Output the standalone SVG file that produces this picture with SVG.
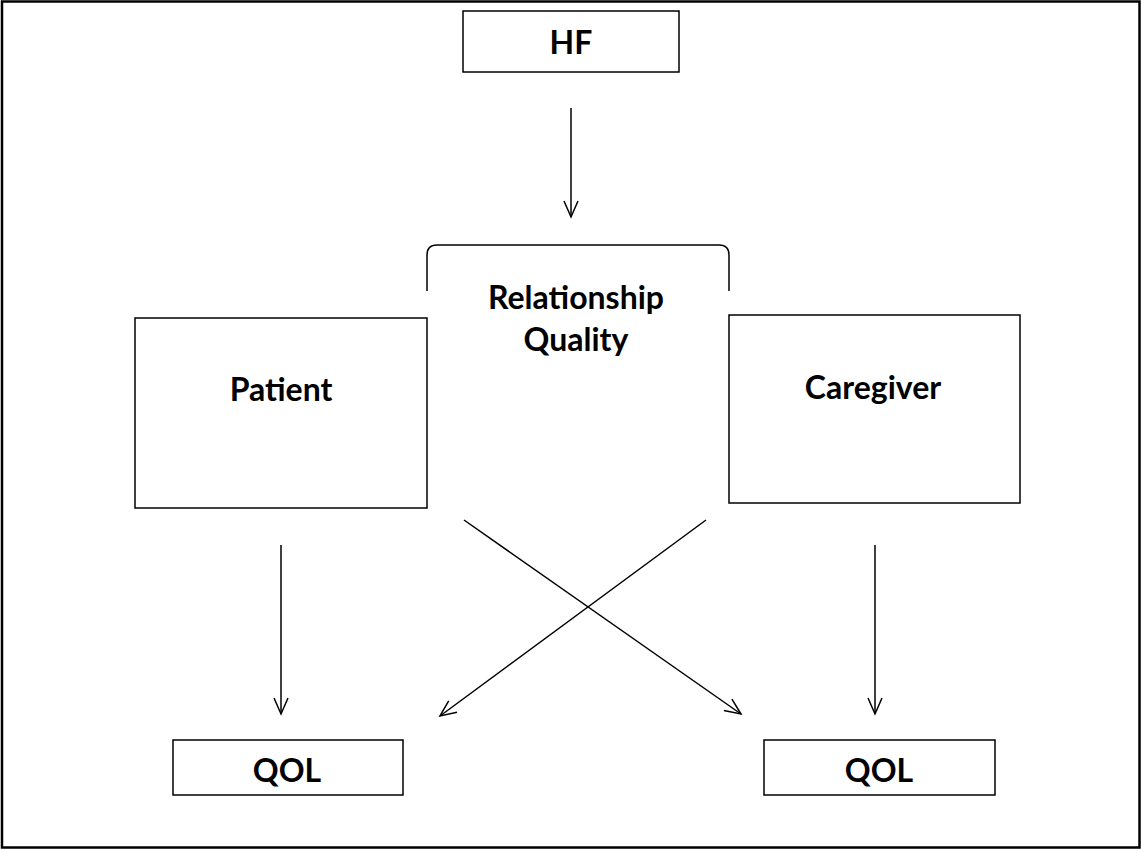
<svg xmlns="http://www.w3.org/2000/svg" width="1142" height="850" viewBox="0 0 1142 850">
<style>
.box{fill:#fff;stroke:#000;stroke-width:1.5}
.t{font-family:Lato,"Open Sans","Liberation Sans",sans-serif;font-weight:bold;font-size:32px;fill:#000;text-anchor:middle}
.c{stroke:#000;stroke-width:1.5;fill:none}
</style>
<defs>
<marker id="ah" viewBox="0 0 20 20" refX="18" refY="10" markerWidth="20" markerHeight="20" markerUnits="userSpaceOnUse" orient="auto">
<polyline points="2,3 18,10 2,17" fill="none" stroke="#000" stroke-width="1.5"/>
</marker>
</defs>
<rect x="0" y="0" width="1142" height="850" fill="#fff"/>
<rect x="2" y="1.5" width="1137.5" height="846" fill="none" stroke="#000" stroke-width="2.5"/>
<g id="hf"><rect class="box" x="463" y="11" width="216" height="61"/><text class="t" x="571" y="54">HF</text></g>
<g id="relationship"><path class="c" d="M427,291 L427,255 Q427,245 437,245 L719,245 Q729,245 729,255 L729,291" stroke-width="2"/><text class="t" x="576" y="309">Relationship</text><text class="t" x="576" y="351">Quality</text></g>
<g id="patient"><rect class="box" x="135" y="318" width="292" height="190"/><text class="t" x="281" y="401">Patient</text></g>
<g id="caregiver"><rect class="box" x="729" y="315" width="291" height="188"/><text class="t" x="873" y="399">Caregiver</text></g>
<g id="qol-patient"><rect class="box" x="173" y="740" width="230" height="55"/><text class="t" x="287" y="782">QOL</text></g>
<g id="qol-caregiver"><rect class="box" x="764" y="740" width="231" height="55"/><text class="t" x="879" y="782">QOL</text></g>
<g id="connectors">
<line class="c" x1="571" y1="108" x2="571" y2="217" marker-end="url(#ah)"/>
<line class="c" x1="281" y1="545" x2="281" y2="714" marker-end="url(#ah)"/>
<line class="c" x1="875" y1="545" x2="875" y2="714" marker-end="url(#ah)"/>
<line class="c" x1="464" y1="520" x2="741" y2="714" marker-end="url(#ah)"/>
<line class="c" x1="706" y1="520" x2="440" y2="716" marker-end="url(#ah)"/>
</g>
</svg>
